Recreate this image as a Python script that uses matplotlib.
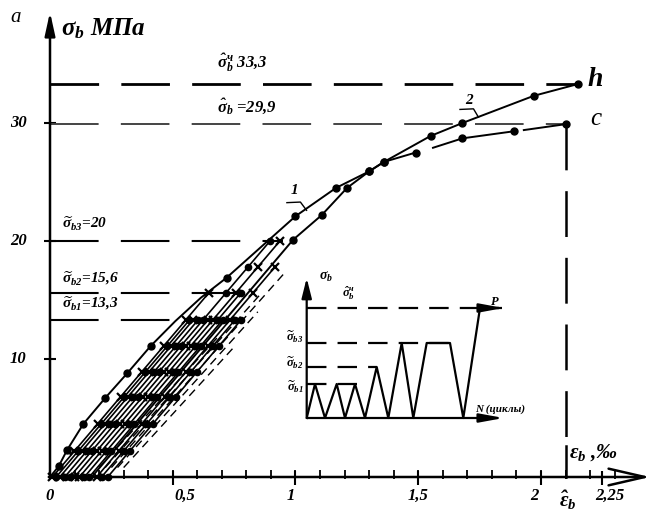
import numpy as np
import matplotlib
matplotlib.use("Agg")
import matplotlib.pyplot as plt

plt.rcParams['font.family'] = ['Liberation Serif', 'DejaVu Serif']
plt.rcParams['font.style'] = 'italic'
plt.rcParams['font.weight'] = 'bold'
plt.rcParams['mathtext.fontset'] = 'custom'
plt.rcParams['mathtext.rm'] = 'Liberation Serif:bold:italic'
plt.rcParams['mathtext.it'] = 'Liberation Serif:bold:italic'
plt.rcParams['mathtext.bf'] = 'Liberation Serif:bold:italic'
plt.rcParams['lines.scale_dashes'] = False

# reference stress levels (MPa) and where their dashed lines stop (strain, ‰)
levels = [13.3, 15.6, 20.0, 29.9, 33.3]
level_ends = [0.80, 0.83, 0.95, 2.10, 2.15]
level_labels = [r'$\widetilde{\sigma}_{b1}$=13,3', r'$\widetilde{\sigma}_{b2}$=15,6',
                r'$\widetilde{\sigma}_{b3}$=20', r'$\hat{\sigma}_b$ =29,9',
                r'$\hat{\sigma}^{ч}_b$ 33,3']

# curve 1 (monotonic, ends at c) - NaN marks breaks of the drawn line
curve1_x = [0, 0.035, 0.07, 0.136, 0.225, 0.315, 0.41, 0.51, 0.615, 0.72, 0.86, 1.0,
            1.165, 1.30, 1.36, 1.49, np.nan, 1.56, 1.68, 1.89, np.nan, 1.93, 2.10]
curve1_y = [0, 0.9, 2.3, 4.5, 6.7, 8.8, 11.1, 13.2, 15.2, 16.9, 19.5, 22.1,
            24.5, 25.9, 26.7, 27.5, np.nan, 27.9, 28.7, 29.3, np.nan, 29.4, 29.9]
curve1_pts_x = [0.035, 0.07, 0.136, 0.225, 0.315, 0.41, 0.72, 1.0, 1.165, 1.30, 1.36, 1.49, 1.68, 1.89, 2.10]
curve1_pts_y = [0.9, 2.3, 4.5, 6.7, 8.8, 11.1, 16.9, 22.1, 24.5, 25.9, 26.7, 27.5, 28.7, 29.3, 29.9]

# curve 2 (after cycling, ends at h)
curve2_x = [0.17, 0.99, 1.107, 1.21, 1.30, 1.36, 1.55, 1.68, 1.97, 2.15]
curve2_y = [0, 20.1, 22.2, 24.5, 25.9, 26.7, 28.9, 30.0, 32.3, 33.3]

# cyclic loading branches: residual strain, peak stress, marker
load_slope = 24.5
load_x0 = [0.01, 0.025, 0.04, 0.06, 0.08, 0.10, 0.12, 0.14, 0.16, 0.19, 0.21, 0.235]
load_peak = [15.6, 13.3, 13.3, 13.3, 20.0, 13.3, 20.0, 15.6, 13.3, 17.8, 13.3, 13.3]
load_marker = ['x', 'o', 'x', 'o', 'o', 'x', 'x', 'o', 'o', 'x', 'o', 'o']
rows = [0.0, 2.2, 4.5, 6.8, 8.9, 11.1, 13.3, 15.6, 17.8, 20.0]

# unloading branches (hatched)
unload_x0 = [0.20, 0.225, 0.25, 0.275, 0.30]
unload_top = [12.0, 15.5, 17.5, 14.0, 11.0]

# inset: schematic load history
inset_n = [0, 8.3, 18.3, 30, 38.3, 48.3, 58.3, 70, 81.6, 95, 106.6, 120, 143.3, 156.6, 173.3]
inset_s = [0, 34, 0, 34, 0, 34, 0, 51, 0, 75, 0, 75, 75, 0, 110]
inset_levels = [34, 51, 75, 110]
inset_level_ends = [50, 70, 143, 195]

xticks = [0, 0.5, 1, 1.5, 2, 2.25]
xtick_labels = ['0', '0,5', '1', '1,5', '2', '2,25']
xtick_shift = [0.0, 0.05, -0.02, 0.0, -0.025, 0.03]
yticks = [10, 20, 30]

eps_hat = 2.10

fig = plt.figure(figsize=(6.53, 5.15), dpi=100)
ax = fig.add_axes([0, 0, 1, 1])
ax.set_xlim(-50 / 245.5, 603 / 245.5)
ax.set_ylim(-38 / 11.8, 477 / 11.8)
ax.axis('off')

# axes with arrows
ax.annotate('', xy=(0, 39.4), xytext=(0, -0.1),
            arrowprops=dict(arrowstyle='-|>,head_length=1.0,head_width=0.22', lw=1.8,
                            color='k', mutation_scale=14, shrinkA=0, shrinkB=0))
ax.annotate('', xy=(2.445, 0), xytext=(-0.005, 0),
            arrowprops=dict(arrowstyle='->,head_length=1.3,head_width=0.3', lw=1.8,
                            color='k', mutation_scale=20, shrinkA=0, shrinkB=0))

# x ticks
minor = np.arange(0.1, 2.35, 0.1)
ax.vlines(minor, -0.2, 0.6, color='k', lw=1.3)
ax.vlines(xticks[1:], -0.7, 0.5, color='k', lw=1.5)
for v, lab, dx in zip(xticks, xtick_labels, xtick_shift):
    ax.text(v + dx, -1.6, lab, ha='center', va='center', fontsize=12)
ax.text(eps_hat + 0.01, -2.0, r'$\hat{\varepsilon}_b$', ha='center', va='center', fontsize=15)

# y ticks
ax.hlines(yticks, -0.025, 0.025, color='k', lw=1.5)
for v in yticks:
    ax.text(-0.13, v, str(v), ha='center', va='center', fontsize=12)

ax.text(-0.16, 38.9, 'a', fontsize=15, weight='normal', ha='left', va='center')
ax.text(0.045, 38.0, r'$\sigma_b$ МПа', fontsize=18, ha='left', va='center')
ax.text(2.115, 2.1, r'$\varepsilon_b$ ,‰', fontsize=15, ha='left', va='center')

# reference levels
lev_color = ['k', 'k', 'k', '#444444', 'k']
lev_lw = [1.5, 1.5, 1.5, 1.4, 2.0]
for y, xe, c, w in zip(levels, level_ends, lev_color, lev_lw):
    ax.plot([0, xe], [y, y], color=c, lw=w, ls=(0, (35, 16)), dash_capstyle='butt')
lab_pos = [(0.05, 14.7), (0.05, 16.9), (0.05, 21.4), (0.68, 31.4), (0.68, 35.1)]
lab_size = [11, 11, 11, 12, 12]
for (lx, ly), t, fs in zip(lab_pos, level_labels, lab_size):
    ax.text(lx, ly, t, fontsize=fs, ha='left', va='center')

# vertical dashed line at ultimate strain
ax.plot([eps_hat, eps_hat], [29.9, 2.6], color='k', lw=1.8, ls=(0, (33, 15)), dash_capstyle='butt')
ax.plot([eps_hat, eps_hat], [0, 2.6], color='k', lw=1.8)

# cyclic branches
for x0, pk, mk in zip(load_x0, load_peak, load_marker):
    ax.plot([x0, x0 + pk / load_slope], [0, pk], color='k', lw=1.2)
    ys = [r for r in rows if r <= pk + 0.05]
    xs = [x0 + r / load_slope for r in ys]
    if mk == 'o':
        ax.plot(xs, ys, ls='none', marker='o', ms=4.5, color='k')
    else:
        ax.plot(xs, ys, ls='none', marker='x', ms=6, mew=1.6, color='k')
for x0, top in zip(unload_x0, unload_top):
    ax.plot([x0, x0 + top / load_slope], [0.8, top], color='k', lw=1.0, ls=(0, (6, 4)))

# envelope curves
ax.plot(curve1_x, curve1_y, color='k', lw=1.4)
ax.plot(curve1_pts_x, curve1_pts_y, ls='none', marker='o', ms=5, color='k')
ax.plot(curve2_x, curve2_y, color='k', lw=1.4)
ax.plot(curve2_x[1:], curve2_y[1:], ls='none', marker='o', ms=5, color='k')

ax.text(2.19, 33.7, 'h', fontsize=20, ha='left', va='center')
ax.text(2.20, 30.3, 'c', fontsize=18, weight='normal', ha='left', va='center')

# curve numbers with leaders
ax.text(0.995, 24.3, '1', fontsize=11, ha='center', va='center')
ax.plot([0.965, 1.02, 1.045], [23.25, 23.3, 22.6], color='k', lw=1.0)
ax.text(1.705, 31.9, '2', fontsize=11, ha='center', va='center')
ax.plot([1.67, 1.725, 1.745], [31.15, 31.2, 30.5], color='k', lw=1.0)

# inset
ax2 = fig.add_axes([306.7 / 653, 90 / 515, 200 / 653, 155 / 515])
ax2.set_xlim(0, 200)
ax2.set_ylim(-7, 148)
ax2.axis('off')
ax2.patch.set_alpha(0)
ax2.annotate('', xy=(0, 140), xytext=(0, 0),
             arrowprops=dict(arrowstyle='-|>,head_length=1.0,head_width=0.25', lw=1.6,
                             color='k', mutation_scale=12, shrinkA=0, shrinkB=0))
ax2.annotate('', xy=(197, 0), xytext=(0, 0),
             arrowprops=dict(arrowstyle='-|>,head_length=1.2,head_width=0.22', lw=1.6,
                             color='k', mutation_scale=12, shrinkA=0, shrinkB=0))
for y, xe in zip(inset_levels, inset_level_ends):
    ax2.plot([0, xe], [y, y], color='k', lw=1.6, ls=(0, (14, 8)), dash_capstyle='butt')
ax2.annotate('', xy=(197, 110), xytext=(190, 110),
             arrowprops=dict(arrowstyle='-|>,head_length=1.2,head_width=0.22', lw=1.6,
                             color='k', mutation_scale=12, shrinkA=0, shrinkB=0))
ax2.plot(inset_n, inset_s, color='k', lw=1.6)
ax2.text(12, 141, r'$\sigma_b$', fontsize=10, ha='left', va='center')
ax2.text(42, 125, r'$\hat{\sigma}^{ч}_b$', fontsize=9, ha='center', va='center')
ax2.text(-3, 81, r'$\widetilde{\sigma}_{b3}$', fontsize=9, ha='right', va='center')
ax2.text(-3, 55, r'$\widetilde{\sigma}_{b2}$', fontsize=9, ha='right', va='center')
ax2.text(-3, 31, r'$\widetilde{\sigma}_{b1}$', fontsize=9, ha='right', va='center')
ax2.text(188, 116, 'P', fontsize=9, ha='center', va='center')
ax2.text(168, 9, 'N (циклы)', fontsize=8, ha='left', va='center', clip_on=False)

fig.savefig('out.png', dpi=100)
